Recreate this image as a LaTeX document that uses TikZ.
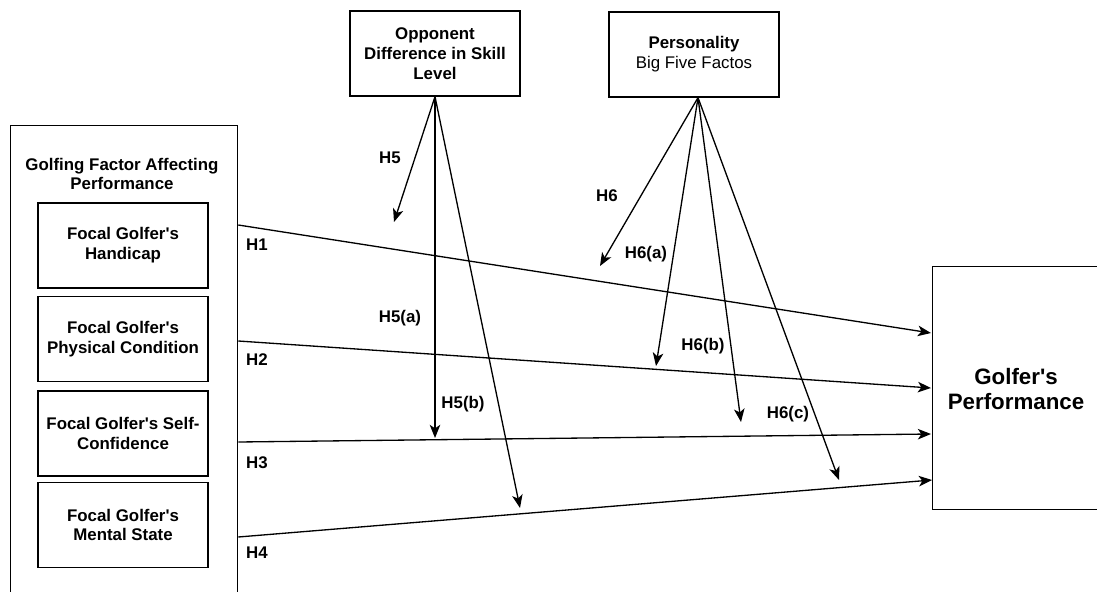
\documentclass[tikz,border=0pt]{standalone}
\usepackage{fontspec}
\setmainfont{Liberation Sans}
\usetikzlibrary{positioning,arrows.meta}

\begin{document}
\begin{tikzpicture}[x=0.02cm,y=-0.02cm,
  box/.style={draw, line width=0.75pt, align=center, inner sep=0pt,
    minimum width=3.4cm, minimum height=1.7cm,
    font=\fontsize{9.6}{11.3}\selectfont\bfseries},
  lab/.style={font=\fontsize{9.6}{11.3}\selectfont\bfseries, align=center},
  hyp/.style={line width=0.75pt, -{Stealth[length=7.5pt,width=6pt,inset=2pt]}}]
\useasboundingbox (0,0) rectangle (1097,591);
\clip (0,0) rectangle (1097,591);

% moderators on top
\node[box] (opp) at (435,53.5) {Opponent\\Difference in Skill\\Level};
\node[box] (pers) at (694,54.5) {Personality\\\mdseries Big Five Factos};

% golfing factors
\node[draw, line width=0.75pt, anchor=north west, minimum width=4.54cm,
  minimum height=10cm] (factors) at (10,125) {};
\node[lab] (ftitle) at (122,174) {Golfing Factor Affecting\\Performance};
\node[box] (hcap) at (123,245.5) {Focal Golfer\textquotesingle s\\Handicap};
\node[box] (phys) at (123,339) {Focal Golfer\textquotesingle s\\Physical Condition};
\node[box] (conf) at (123,433.5) {Focal Golfer\textquotesingle s Self-\\Confidence};
\node[box] (ment) at (123,525) {Focal Golfer\textquotesingle s\\Mental State};

% outcome
\node[draw, line width=0.75pt, anchor=north west, minimum width=3.4cm,
  minimum height=4.86cm] (perf) at (932,266) {};
\node[align=center, font=\fontsize{12.7}{14.7}\selectfont\bfseries]
  (ptext) at (1016,389) {Golfer\textquotesingle s\\Performance};

% end points
\path (factors.north east) ++(0,100) coordinate (s1);
\path (factors.north east) ++(0,216) coordinate (s2);
\path (factors.north east) ++(0,317) coordinate (s3);
\path (factors.north east) ++(0,412) coordinate (s4);
\path (perf.north west) ++(-1,67) coordinate (e1);
\path (perf.north west) ++(-1,122) coordinate (e2);
\path (perf.north west) ++(-1,168) coordinate (e3);
\path (perf.north west) ++(0,214) coordinate (e4);
\coordinate (p0) at ([xshift=0.08cm]pers.south);
\coordinate (t5) at (394,222);
\coordinate (t5a) at (435,438);
\coordinate (t5b) at (520,508);
\coordinate (t6) at (600,266);
\coordinate (t6a) at (656,366);
\coordinate (t6b) at (741,422);
\coordinate (t6c) at (839,480);

% hypotheses
\draw[hyp] (s1) -- (e1);
\draw[hyp] (s2) -- (e2);
\draw[hyp] (s3) -- (e3);
\draw[hyp] (s4) -- (e4);
\draw[hyp] (opp.south) -- (t5);
\draw[hyp] (opp.south) -- (t5a);
\draw[hyp] (opp.south) -- (t5b);
\draw[hyp] (p0) -- (t6);
\draw[hyp] (p0) -- (t6a);
\draw[hyp] (p0) -- (t6b);
\draw[hyp] (p0) -- (t6c);

\node[lab] (l1) at (257,245) {H1};
\node[lab] (l2) at (257,360) {H2};
\node[lab] (l3) at (257,463) {H3};
\node[lab] (l4) at (257,553) {H4};
\node[lab] (l5) at (390,158) {H5};
\node[lab] (l5a) at (400,318) {H5(a)};
\node[lab] (l5b) at (463,404) {H5(b)};
\node[lab] (l6) at (607,196) {H6};
\node[lab] (l6a) at (646,254) {H6(a)};
\node[lab] (l6b) at (703,346) {H6(b)};
\node[lab] (l6c) at (788,414) {H6(c)};
\end{tikzpicture}
\end{document}
